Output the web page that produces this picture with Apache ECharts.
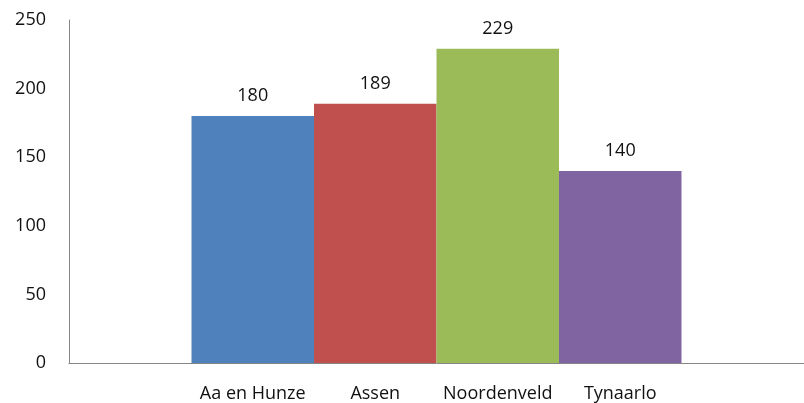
<!DOCTYPE html>
<html>
<head>
<meta charset="utf-8">
<script src="https://cdn.jsdelivr.net/npm/echarts@6/dist/echarts.min.js"></script>
<style>
  html, body { margin: 0; padding: 0; background: #fff; }
  #chart { width: 804px; height: 403px; }
</style>
</head>
<body>
<div id="chart"></div>
<script>
// gemeenten (lege plekken links en rechts zoals in het origineel)
const categories = ['', 'Aa en Hunze', 'Assen', 'Noordenveld', 'Tynaarlo', ''];
const values = [null, 180, 189, 229, 140, null];
const colors = ['#4F81BD', '#4F81BD', '#C0504D', '#9BBB59', '#8064A2', '#8064A2'];
const yTicks = { min: 0, max: 250, interval: 50 };

const chart = echarts.init(document.getElementById('chart'));

const font = '"Open Sans", "Noto Sans", sans-serif';

chart.setOption({
  animation: false,
  grid: { left: 69, right: 0, top: 20, bottom: 40 },
  xAxis: {
    type: 'category',
    data: categories,
    axisLine: { lineStyle: { color: '#868686', width: 1 } },
    axisTick: { show: false },
    axisLabel: { color: '#111', fontSize: 18, fontFamily: font, margin: 22, interval: 0 },
  },
  yAxis: {
    type: 'value',
    min: yTicks.min,
    max: yTicks.max,
    interval: yTicks.interval,
    splitLine: { show: false },
    axisLine: { show: true, lineStyle: { color: '#868686', width: 1 } },
    axisTick: { show: false },
    axisLabel: { color: '#111', fontSize: 18, fontFamily: font, margin: 23 },
  },
  series: [{
    type: 'bar',
    barWidth: '100%',
    data: values.map((v, i) => ({ value: v, itemStyle: { color: colors[i] } })),
    label: {
      show: true,
      position: 'top',
      distance: 11,
      color: '#111',
      fontSize: 18,
      fontFamily: font,
    },
  }],
});
</script>
</body>
</html>
